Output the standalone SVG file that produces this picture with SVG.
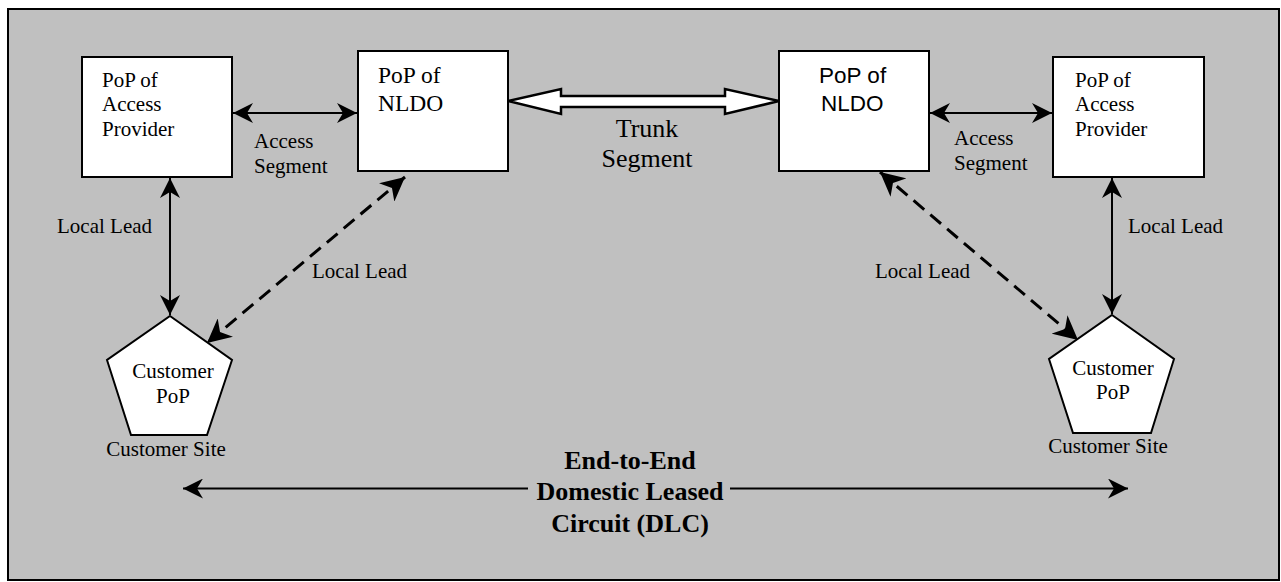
<svg xmlns="http://www.w3.org/2000/svg" width="1281" height="582" viewBox="0 0 1281 582">
<style>
.box{fill:#fff;stroke:#000;stroke-width:2}
.t{font-family:"Liberation Serif","Times New Roman",serif;font-size:21px;fill:#000}
.a{font-family:"Liberation Sans",Arial,sans-serif;font-size:22.5px;fill:#000}
.big{font-size:26px}
.b{font-family:"Liberation Serif","Times New Roman",serif;font-size:26px;font-weight:bold;fill:#000}
.ln{stroke:#000;stroke-width:2;fill:none;marker-start:url(#ah);marker-end:url(#ah)}
.ln1{stroke:#000;stroke-width:2;fill:none}
.dl{stroke:#000;stroke-width:3;fill:none;stroke-dasharray:14 8;marker-start:url(#ahd);marker-end:url(#ahd)}
</style>
<defs>
<marker id="ah" markerUnits="userSpaceOnUse" markerWidth="20" markerHeight="20" refX="20" refY="10" orient="auto-start-reverse" viewBox="0 0 20 20">
<path d="M20,10 L0,0 L6,10 L0,20 Z" fill="#000"/>
</marker>
<marker id="ahd" markerUnits="userSpaceOnUse" markerWidth="24" markerHeight="24" refX="24" refY="12" orient="auto-start-reverse" viewBox="0 0 24 24">
<path d="M24,12 L0,0 L7,12 L0,24 Z" fill="#000"/>
</marker>
</defs>
<rect x="8" y="9" width="1271" height="571" fill="#c0c0c0" stroke="#000" stroke-width="2"/>

<g id="connectors">
<line class="ln" x1="233" y1="113" x2="357" y2="113"/>
<line class="ln" x1="930" y1="113" x2="1052" y2="113"/>
<line class="ln" x1="170" y1="178" x2="170" y2="315"/>
<line class="ln" x1="1112" y1="178" x2="1112" y2="314"/>
<line class="dl" x1="405" y1="177" x2="207" y2="343"/>
<line class="dl" x1="880" y1="172" x2="1078" y2="340"/>
<polygon points="508,101 561,89 561,96 725,96 725,89 779,101 725,114 725,107 561,107 561,114" fill="#fff" stroke="#000" stroke-width="2.5" stroke-linejoin="miter"/>
<line class="ln1" x1="183" y1="488.5" x2="528" y2="488.5" marker-start="url(#ah)"/>
<line class="ln1" x1="730" y1="488.5" x2="1128" y2="488.5" marker-end="url(#ah)"/>
<text class="t" x="254" y="148">Access</text>
<text class="t" x="254" y="173">Segment</text>
<text class="t" x="954" y="145">Access</text>
<text class="t" x="954" y="170">Segment</text>
<text class="t big" x="647" y="137" text-anchor="middle">Trunk</text>
<text class="t big" x="647" y="167" text-anchor="middle">Segment</text>
<text class="t" x="57" y="233">Local Lead</text>
<text class="t" x="1128" y="233">Local Lead</text>
<text class="t" x="312" y="278">Local Lead</text>
<text class="t" x="875" y="278">Local Lead</text>
<text class="b" x="630" y="469" text-anchor="middle">End-to-End</text>
<text class="b" x="630" y="500" text-anchor="middle">Domestic Leased</text>
<text class="b" x="630" y="532" text-anchor="middle">Circuit (DLC)</text>
</g>

<g id="ap-left">
<rect class="box" x="82" y="57" width="150" height="120"/>
<text class="t" x="102" y="87">PoP of</text>
<text class="t" x="102" y="111">Access</text>
<text class="t" x="102" y="136">Provider</text>
</g>
<g id="nldo-left">
<rect class="box" x="358" y="51" width="150" height="120"/>
<text class="t" x="378" y="83" style="font-size:23.5px">PoP of</text>
<text class="t" x="378" y="111" style="font-size:23.5px">NLDO</text>
</g>
<g id="nldo-right">
<rect class="box" x="779" y="51" width="150" height="120"/>
<text class="a" x="819" y="83">PoP of</text>
<text class="a" x="821" y="111">NLDO</text>
</g>
<g id="ap-right">
<rect class="box" x="1053" y="57" width="151" height="120"/>
<text class="t" x="1075" y="87">PoP of</text>
<text class="t" x="1075" y="111">Access</text>
<text class="t" x="1075" y="136">Provider</text>
</g>
<g id="cust-left">
<polygon class="box" points="170,316 232,360 207,435 131,435 107,360"/>
<text class="t" x="173" y="378" text-anchor="middle">Customer</text>
<text class="t" x="173" y="403" text-anchor="middle">PoP</text>
<text class="t" x="166" y="456" text-anchor="middle">Customer Site</text>
</g>
<g id="cust-right">
<polygon class="box" points="1112,315 1174,359 1151,433 1073,433 1049,359"/>
<text class="t" x="1113" y="375" text-anchor="middle">Customer</text>
<text class="t" x="1113" y="399" text-anchor="middle">PoP</text>
<text class="t" x="1108" y="453" text-anchor="middle">Customer Site</text>
</g>
</svg>
